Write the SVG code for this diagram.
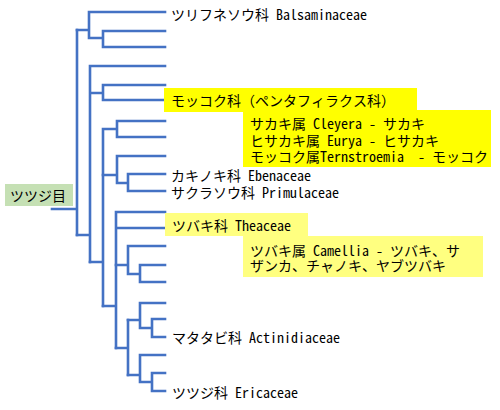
<svg xmlns="http://www.w3.org/2000/svg" width="500" height="410" viewBox="0 0 500 410">
<style>
.ln{fill:none;stroke:#4472C4;stroke-width:2.6;stroke-linecap:square}
.t{font-family:"Noto Sans Mono CJK JP","Noto Sans CJK JP",sans-serif;font-size:14px;fill:#000;white-space:pre}
.y1{fill:#FFFF00}
.y2{fill:#FFFF80}
.gr{fill:#C5E0B4}
</style>
<rect width="500" height="410" fill="#fff"/>
<g id="connectors">
<path class="ln" d="M52,209H77 M77,30V235"/>
<path class="ln" d="M77,30H89 M89,12V38 M89,12H165 M89,38H103 M103,31V47 M103,31H165 M103,47H165"/>
<path class="ln" d="M77,235H90 M90,66V262 M90,66H165 M90,93H103 M103,85V100 M103,85H165 M103,100H165"/>
<path class="ln" d="M90,262H103 M103,129V306 M103,129H117 M117,121V137 M117,121H165 M117,137H165"/>
<path class="ln" d="M103,175H117 M117,156V183 M117,156H165 M117,183H128 M128,174V191 M128,174H165 M128,191H165"/>
<path class="ln" d="M103,306H116 M116,212V348 M116,212H165 M116,228H165"/>
<path class="ln" d="M116,265H128 M128,246V274 M128,246H165 M128,274H140 M140,265V282 M140,265H165 M140,282H165"/>
<path class="ln" d="M116,348H128 M128,320V375"/>
<path class="ln" d="M128,320H140 M140,303V328 M140,303H165 M140,328H152 M152,319V337 M152,319H165 M152,337H165"/>
<path class="ln" d="M128,375H140 M140,355V382 M140,355H165 M140,382H152 M152,373V391 M152,373H165 M152,391H165"/>
</g>
<g id="root">
<rect class="gr" x="5" y="184" width="68" height="22"/>
<text class="t" x="10" y="201">ツツジ目</text>
</g>
<g id="balsaminaceae">
<text class="t" x="171" y="20">ツリフネソウ科 Balsaminaceae</text>
</g>
<g id="pentaphylacaceae">
<rect class="y1" x="164" y="88" width="253" height="24"/>
<text class="t" x="171" y="106">モッコク科（ペンタフィラクス科）</text>
</g>
<g id="pentaphylacaceae-genera">
<rect class="y1" x="243" y="110" width="248" height="57"/>
<text class="t" x="250" y="129">サカキ属 Cleyera - サカキ</text>
<text class="t" x="250" y="146">ヒサカキ属 Eurya - ヒサカキ</text>
<text class="t" x="250" y="162">モッコク属Ternstroemia  - モッコク</text>
</g>
<g id="ebenaceae">
<text class="t" x="171" y="181">カキノキ科 Ebenaceae</text>
</g>
<g id="primulaceae">
<text class="t" x="171" y="198">サクラソウ科 Primulaceae</text>
</g>
<g id="theaceae">
<rect class="y2" x="165" y="213" width="143" height="23"/>
<text class="t" x="172" y="231">ツバキ科 Theaceae</text>
</g>
<g id="camellia">
<rect class="y2" x="243" y="236" width="240" height="41"/>
<text class="t" x="250" y="256">ツバキ属 Camellia - ツバキ、サ</text>
<text class="t" x="250" y="271">ザンカ、チャノキ、ヤブツバキ</text>
</g>
<g id="actinidiaceae">
<text class="t" x="172" y="343">マタタビ科 Actinidiaceae</text>
</g>
<g id="ericaceae">
<text class="t" x="172" y="398">ツツジ科 Ericaceae</text>
</g>
</svg>
